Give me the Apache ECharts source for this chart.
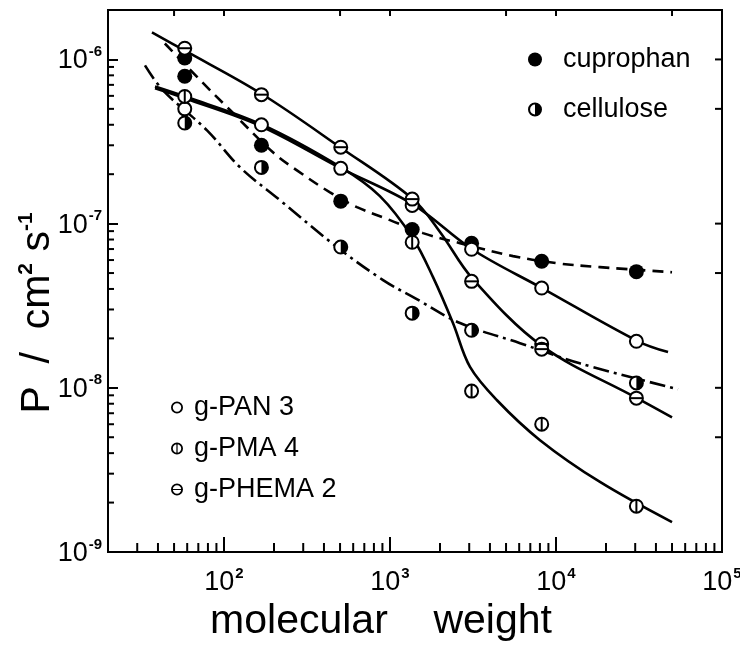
<!DOCTYPE html>
<html>
<head>
<meta charset="utf-8">
<title>Permeability vs molecular weight</title>
<script src="https://cdn.jsdelivr.net/npm/echarts@6/dist/echarts.min.js"></script>
<style>
  html, body { margin: 0; padding: 0; background: #fff; }
  #chart { width: 740px; height: 645px; }
</style>
</head>
<body>
<div id="chart"></div>
<script>
const mwCuprophan = [58, 58, 168, 505, 1360, 3100, 8200, 30500];
const pCuprophan = [1.02e-6, 7.9e-7, 3.0e-7, 1.37e-7, 9.2e-8, 7.6e-8, 5.9e-8, 5.1e-8];

const mwCellulose = [58, 168, 505, 1360, 3100, 30500];
const pCellulose = [4.1e-7, 2.2e-7, 7.2e-8, 2.85e-8, 2.24e-8, 1.07e-8];

const mwPAN = [58, 168, 505, 1360, 3100, 8200, 30500];
const pPAN = [5.0e-7, 4.0e-7, 2.17e-7, 1.29e-7, 6.98e-8, 4.05e-8, 1.92e-8];

const mwPMA = [58, 1360, 3100, 8200, 30500];
const pPMA = [5.95e-7, 7.7e-8, 9.55e-9, 6.0e-9, 1.9e-9];

const mwPHEMA = [58, 168, 505, 1360, 3100, 8200, 8200, 30500];
const pPHEMA = [1.17e-6, 6.1e-7, 2.92e-7, 1.41e-7, 4.45e-8, 1.85e-8, 1.72e-8, 8.65e-9];

// fitted curves as drawn in the figure
const curveCuprophanX = [44, 72, 109, 197, 275, 435, 632, 1000, 1580, 2640, 5510, 10100, 18400, 50000];
const curveCuprophanY = [1.25e-6, 7.46e-7, 4.9e-7, 2.72e-7, 2.11e-7, 1.55e-7, 1.26e-7, 1.05e-7, 8.75e-8, 7.6e-8, 6.34e-8, 5.74e-8, 5.43e-8, 5.06e-8];

const curveCelluloseX = [33.4, 42.9, 79, 125, 217, 479, 908, 1413, 2640, 6070, 13900, 54300];
const curveCelluloseY = [9.2e-7, 6.48e-7, 3.7e-7, 2.2e-7, 1.39e-7, 7.2e-8, 4.53e-8, 3.52e-8, 2.48e-8, 1.87e-8, 1.41e-8, 9.8e-9];

const curvePANX = [38.4, 58, 167, 507, 1374, 3120, 8230, 31200, 47300];
const curvePANY = [6.67e-7, 5.8e-7, 3.92e-7, 2.17e-7, 1.31e-7, 6.98e-8, 4.05e-8, 1.92e-8, 1.65e-8];

const curvePMAX = [38.4, 58, 167, 507, 869, 1374, 1816, 2394, 3033, 4410, 8010, 18400, 50000];
const curvePMAY = [6.85e-7, 5.96e-7, 4.03e-7, 2.2e-7, 1.47e-7, 8.15e-8, 4.72e-8, 2.48e-8, 1.34e-8, 8.4e-9, 4.8e-9, 2.67e-9, 1.52e-9];

const curvePHEMAX = [36.8, 58.2, 167, 500, 1374, 2000, 3120, 8230, 30760, 50000];
const curvePHEMAY = [1.46e-6, 1.13e-6, 6.2e-7, 2.92e-7, 1.41e-7, 8.9e-8, 4.66e-8, 1.8e-8, 8.65e-9, 6.6e-9];

// axes
const xMin = 20, xMax = 1e5;
const yMin = 1e-9, yMax = 2e-6;
const xTickExponents = [2, 3, 4, 5];
const yTickExponents = [-9, -8, -7, -6];
const xMinorTicks = [30, 40, 50, 60, 70, 80, 90,
  200, 300, 400, 500, 600, 700, 800, 900,
  2000, 3000, 4000, 5000, 6000, 7000, 8000, 9000,
  20000, 30000, 40000, 50000, 60000, 70000, 80000, 90000];
const xTopTicks = [50, 100, 500, 1000, 5000, 10000, 50000];
const yMinorTicks = [2e-9, 3e-9, 4e-9, 5e-9, 6e-9, 7e-9, 8e-9, 9e-9,
  2e-8, 3e-8, 4e-8, 5e-8, 6e-8, 7e-8, 8e-8, 9e-8,
  2e-7, 3e-7, 4e-7, 5e-7, 6e-7, 7e-7, 8e-7, 9e-7];
const yRightTicks = [5e-9, 1e-8, 5e-8, 1e-7, 5e-7, 1e-6];

const FONT = 'Liberation Sans';

const zip = (xs, ys) => xs.map((x, i) => [x, ys[i]]);

const ringPath = 'path://M0,10 A10,10 0 1,1 20,10 A10,10 0 1,1 0,10 Z M3,10 A7,7 0 1,0 17,10 A7,7 0 1,0 3,10 Z';
const ringVBar = ringPath + ' M9,3 L11,3 L11,17 L9,17 Z';
const ringHBar = ringPath + ' M3,9 L17,9 L17,11 L3,11 Z';
const ringHalf = ringPath + ' M10,3 A7,7 0 0,1 10,17 Z';
const halfDisc = 'path://M0,0 A7,7 0 0,1 0,14 Z';

function expLabel(v, list) {
  const l = Math.log10(v);
  const e = Math.round(l);
  if (Math.abs(l - e) > 1e-6 || list.indexOf(e) < 0) return '';
  return '{b|10}{s|' + e + '}';
}

// short tick marks drawn with the axes' own scales
function tickRenderer(side, len) {
  return function (params, api) {
    const p = api.coord([api.value(0), api.value(1)]);
    let x2 = p[0], y2 = p[1];
    if (side === 'bottom') y2 -= len;
    if (side === 'top') y2 += len;
    if (side === 'left') x2 += len;
    if (side === 'right') x2 -= len;
    return {
      type: 'line',
      shape: { x1: p[0], y1: p[1], x2: x2, y2: y2 },
      style: { stroke: '#000', lineWidth: 2 }
    };
  };
}

function tickSeries(data, side, len) {
  return {
    type: 'custom',
    silent: true,
    clip: false,
    renderItem: tickRenderer(side, len),
    data: data,
    z: 3
  };
}

function curve(name, xs, ys, dash) {
  return {
    name: name,
    type: 'line',
    data: zip(xs, ys),
    smooth: 0.35,
    showSymbol: false,
    symbol: 'none',
    silent: true,
    lineStyle: { color: '#000', width: 2.6, type: dash || 'solid' },
    z: 2
  };
}

function openMarks(name, xs, ys) {
  return {
    name: name,
    type: 'scatter',
    data: zip(xs, ys),
    symbol: 'circle',
    symbolSize: 13,
    itemStyle: { color: '#fff', borderColor: '#000', borderWidth: 2, opacity: 1 },
    z: 5
  };
}

function overlay(xs, ys, symbol, size, offset) {
  return {
    type: 'scatter',
    data: zip(xs, ys),
    symbol: symbol,
    symbolSize: size,
    symbolOffset: offset || [0, 0],
    silent: true,
    itemStyle: { color: '#000', opacity: 1 },
    z: 6
  };
}

const chart = echarts.init(document.getElementById('chart'));

const axisRich = {
  b: { fontSize: 27, fontFamily: FONT, color: '#000', lineHeight: 30, verticalAlign: 'bottom' },
  s: { fontSize: 15, fontFamily: FONT, fontWeight: 'bold', color: '#000', lineHeight: 30, verticalAlign: 'top', padding: [0, 0, 12, 1] }
};

const option = {
  animation: false,
  backgroundColor: '#fff',
  grid: {
    left: 108, right: 18, top: 10, bottom: 93,
    outerBoundsMode: 'none',
    containLabel: false,
    show: true, borderColor: '#000', borderWidth: 2
  },
  xAxis: {
    type: 'log',
    logBase: 10,
    min: xMin,
    max: xMax,
    axisLine: { show: true, onZero: false, lineStyle: { color: '#000', width: 2 } },
    axisTick: { show: true, inside: true, length: 15, lineStyle: { color: '#000', width: 2 } },
    splitLine: { show: false },
    axisLabel: {
      margin: 14,
      formatter: v => expLabel(v, xTickExponents),
      rich: axisRich
    },
    name: '{t|molecular    weight}',
    nameLocation: 'middle',
    nameGap: 48,
    nameTextStyle: {
      padding: [0, 68, 0, 0],
      rich: { t: { fontSize: 41, fontFamily: FONT, color: '#000' } }
    }
  },
  yAxis: {
    type: 'log',
    logBase: 10,
    min: yMin,
    max: yMax,
    axisLine: { show: true, onZero: false, lineStyle: { color: '#000', width: 2 } },
    axisTick: { show: true, inside: true, length: 10, lineStyle: { color: '#000', width: 2 } },
    splitLine: { show: false },
    axisLabel: {
      margin: 6,
      formatter: v => expLabel(v, yTickExponents),
      rich: axisRich
    },
    name: '{a|P  /  cm}{s|2}{a| s}{s|-1}',
    nameLocation: 'middle',
    nameRotate: 90,
    nameMoveOverlap: false,
    nameGap: 50,
    nameTextStyle: {
      padding: [0, 64, 0, 0],
      rich: {
        a: { fontSize: 41, fontFamily: FONT, color: '#000', lineHeight: 42, verticalAlign: 'bottom' },
        s: { fontSize: 21, fontFamily: FONT, fontWeight: 'bold', color: '#000', lineHeight: 42, verticalAlign: 'top' }
      }
    }
  },
  legend: [
    {
      orient: 'vertical',
      left: 523,
      top: 41,
      itemWidth: 14,
      itemHeight: 14,
      itemGap: 23,
      selectedMode: false,
      textStyle: { fontSize: 27, fontFamily: FONT, color: '#000', padding: [0, 0, 0, 16] },
      data: [
        { name: 'cuprophan', icon: 'circle', itemStyle: { color: '#000', borderWidth: 0 } },
        { name: 'cellulose', icon: ringHalf, itemStyle: { color: '#000', borderWidth: 0 } }
      ]
    },
    {
      orient: 'vertical',
      left: 166,
      top: 389,
      itemWidth: 12,
      itemHeight: 12,
      itemGap: 14,
      selectedMode: false,
      textStyle: { fontSize: 27, fontFamily: FONT, color: '#000', padding: [0, 0, 0, 6] },
      data: [
        { name: 'g-PAN 3', icon: ringPath, itemStyle: { color: '#000', borderWidth: 0 } },
        { name: 'g-PMA 4', icon: ringVBar, itemStyle: { color: '#000', borderWidth: 0 } },
        { name: 'g-PHEMA 2', icon: ringHBar, itemStyle: { color: '#000', borderWidth: 0 } }
      ]
    }
  ],
  series: [
    tickSeries(xMinorTicks.map(v => [v, yMin]), 'bottom', 9),
    tickSeries(xTopTicks.map(v => [v, yMax]), 'top', 6),
    tickSeries(yMinorTicks.map(v => [xMin, v]), 'left', 6),
    tickSeries(yRightTicks.map(v => [xMax, v]), 'right', 7),

    curve('cuprophan fit', curveCuprophanX, curveCuprophanY, [11, 7]),
    curve('cellulose fit', curveCelluloseX, curveCelluloseY, [16, 5, 3, 5]),
    curve('g-PAN 3 fit', curvePANX, curvePANY),
    curve('g-PMA 4 fit', curvePMAX, curvePMAY),
    curve('g-PHEMA 2 fit', curvePHEMAX, curvePHEMAY),

    {
      name: 'cuprophan',
      type: 'scatter',
      data: zip(mwCuprophan, pCuprophan),
      symbol: 'circle',
      symbolSize: 15,
      itemStyle: { color: '#000', opacity: 1 },
      z: 5
    },
    openMarks('cellulose', mwCellulose, pCellulose),
    overlay(mwCellulose, pCellulose, halfDisc, [6.5, 13], [3.25, 0]),
    openMarks('g-PAN 3', mwPAN, pPAN),
    openMarks('g-PMA 4', mwPMA, pPMA),
    overlay(mwPMA, pPMA, 'rect', [2, 13]),
    openMarks('g-PHEMA 2', mwPHEMA, pPHEMA),
    overlay(mwPHEMA, pPHEMA, 'rect', [13, 2])
  ]
};

chart.setOption(option);
</script>
</body>
</html>
